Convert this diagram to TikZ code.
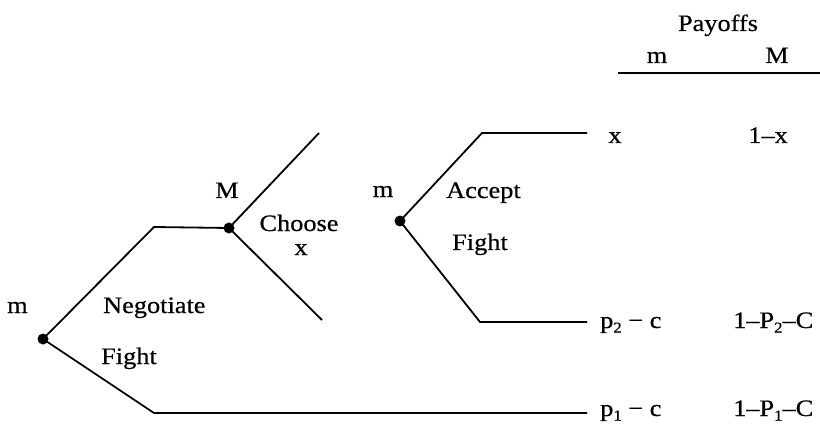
\documentclass[tikz,border=0pt]{standalone}
\usepackage{fontspec}
\setmainfont[FakeStretch=1.12,FakeBold=0.5]{Liberation Serif}
\newcommand\lsub[1]{\raisebox{-4.5pt}{\fontsize{15}{15}\selectfont #1}}
\begin{document}
\begin{tikzpicture}[x=1pt,y=-1pt,
  br/.style={line width=1.8pt, line join=miter},
  dot/.style={circle,fill,inner sep=0pt,minimum size=11pt},
  lbl/.style={inner sep=0pt, anchor=base west, font=\fontsize{23.5}{27}\selectfont},
  lblc/.style={inner sep=0pt, anchor=base, font=\fontsize{23.5}{27}\selectfont}]
\useasboundingbox (0,0) rectangle (820,425);
% decision nodes
\node[dot] (r) at (43,339) {};
\node[dot] (M) at (229,228) {};
\node[dot] (m2) at (400,221) {};
% path corners and ends
\coordinate (n1) at (154,227);
\coordinate (f1) at (154,413);
\coordinate (e1) at (587,413);
\coordinate (mu) at (319,133);
\coordinate (ml) at (322,320);
\coordinate (a1) at (482,133);
\coordinate (e2) at (587,133);
\coordinate (b1) at (480,322);
\coordinate (e3) at (587,322);
% branches
\draw[br] (r.center) -- (n1) -- (M.center);
\draw[br] (r.center) -- (f1) -- (e1);
\draw[br] (M.center) -- (mu);
\draw[br] (M.center) -- (ml);
\draw[br] (m2.center) -- (a1) -- (e2);
\draw[br] (m2.center) -- (b1) -- (e3);
% labels on tree
\node[lbl] (lm1) at (7,313) {m};
\node[lbl] (lneg) at (103,313) {Negotiate};
\node[lbl] (lf1) at (101,364) {Fight};
\node[lblc] (lM) at (227,198) {M};
\node[lblc] (lch) at (299,231) {Choose};
\node[lblc] (lchx) at (301,255) {x};
\node[lblc] (lm2) at (383,197) {m};
\node[lbl] (lacc) at (446,198) {Accept};
\node[lbl] (lf2) at (452,250) {Fight};
% payoffs header
\node[lblc] (hp) at (718,31) {Payoffs};
\node[lblc] (hm) at (657,63) {m};
\node[lblc] (hM) at (777,63) {M};
\coordinate (hl1) at (618,73);
\coordinate (hl2) at (820,73);
\draw[line width=1.5pt] (hl1) -- (hl2);
% payoffs
\node[lblc] (px) at (615,143) {x};
\node[lblc] (pMx) at (768,143) {1–x};
\node[lbl] (pp2) at (600,328) {p\lsub{2} − c};
\node[lbl] (pP2) at (733,328) {1–P\lsub{2}–C};
\node[lbl] (pp1) at (600,416) {p\lsub{1} − c};
\node[lbl] (pP1) at (733,416) {1–P\lsub{1}–C};
\end{tikzpicture}
\end{document}
